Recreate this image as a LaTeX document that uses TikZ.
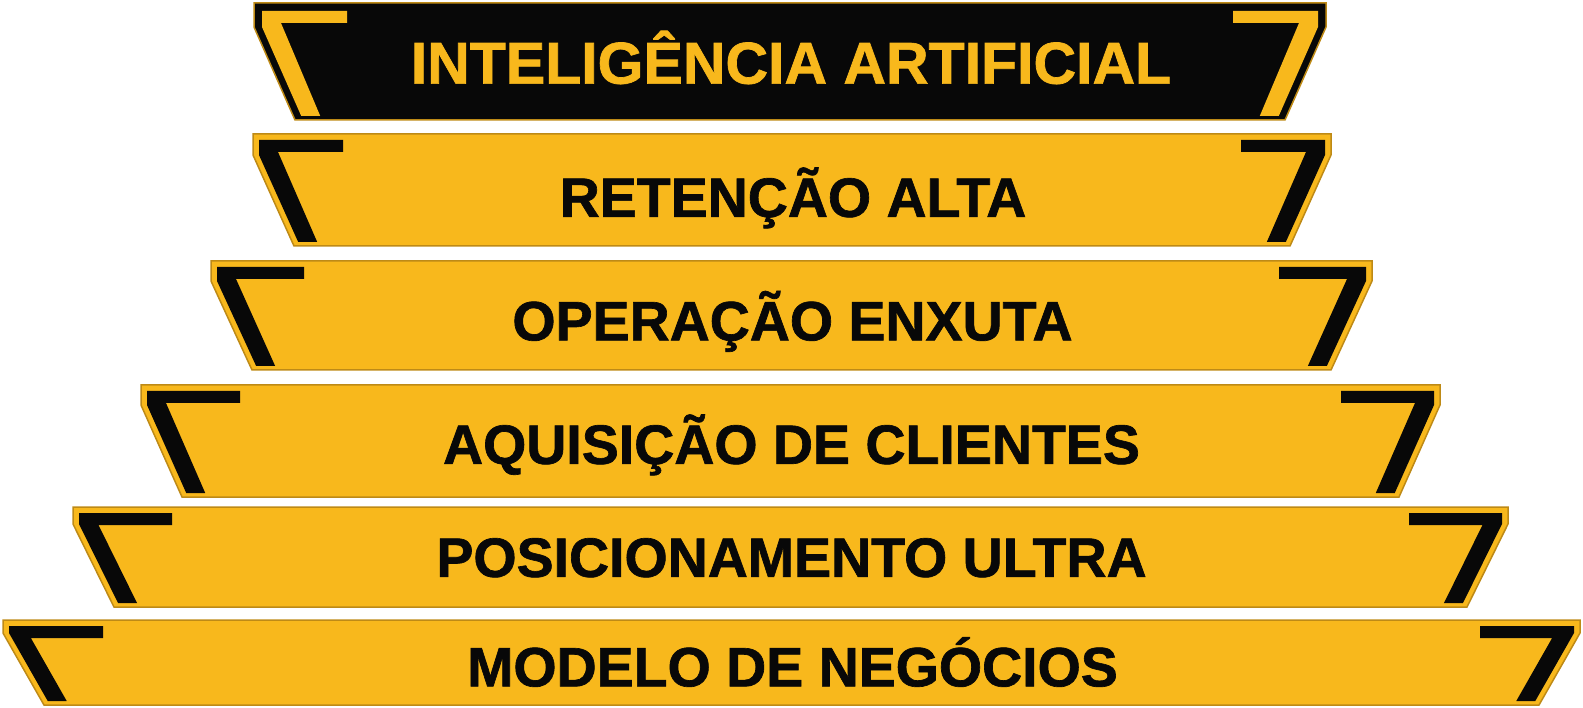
\documentclass[tikz,border=0pt]{standalone}
\usepackage{fontspec}
\setmainfont{Liberation Sans}[BoldFeatures={FakeBold=1.2}]
\definecolor{gold}{RGB}{248,184,28}
\definecolor{rim}{RGB}{190,138,22}
\definecolor{ink}{RGB}{8,8,8}
\tikzset{barshape/.style={draw=rim,line width=1.5pt,line join=miter}}
\newcommand\bk[1]{%
 \fill[\bfill] ({\xo+#1*\bi},{\yt+\bi}) -- ({\xo+#1*\armL},{\yt+\bi}) -- ({\xo+#1*\armL},{\yt+\bi+12})
  -- ({\xo+#1*(\bi+19+\slp*max(0,\bi+12-\vseg))},{\yt+\bi+12})
  -- ({\xo+#1*(\bi+19+\slp*(\yb-4-\yt-\vseg))},{\yb-4})
  -- ({\xo+#1*(\bi+\slp*(\yb-4-\yt-\vseg))},{\yb-4})
  -- ({\xo+#1*\bi},{\yt+\vseg}) -- cycle;}
\newcommand\stepbar[9]{%
 \pgfmathsetmacro\slp{41/(#5-#4-#6)}%
 \def\yt{#4}\def\yb{#5}\def\vseg{#6}\def\armL{#7}%
 \ifnum#8=1 \def\bi{8}\def\bfill{gold}\def\mfill{ink}\def\tcol{gold}\def\bfs{59}\else
   \def\bi{6}\def\bfill{ink}\def\mfill{gold}\def\tcol{ink}\def\bfs{55.5}\fi
 \filldraw[barshape,fill=\mfill] (#2,#4) -- (#3,#4) -- ({#3},{#4+#6}) -- ({#3-41},{#5}) -- ({#2+41},{#5}) -- ({#2},{#4+#6}) -- cycle;
 \def\xo{#2}\bk{1}%
 \def\xo{#3}\bk{(-1)}%
 \node[font=\fontsize{\bfs}{\bfs}\selectfont\bfseries,text=\tcol,anchor=base,inner sep=0pt]
   (#1) at ({(#2+#3)/2+1},{(#4+#5)/2+0.358*\bfs+\tdy}) {#9};
}
\begin{document}
\begin{tikzpicture}[x=1pt,y=-1pt]
\useasboundingbox (0,0) rectangle (1583,708);
\def\tdy{1}\stepbar{ia}{254}{1326}{3}{120}{24}{93}{1}{INTELIGÊNCIA ARTIFICIAL}
\def\tdy{7}\stepbar{ret}{253}{1331}{134}{246}{21}{90}{0}{RETENÇÃO ALTA}
\def\tdy{5}\stepbar{ope}{211}{1372}{261}{370}{20}{93}{0}{OPERAÇÃO ENXUTA}
\def\tdy{3}\stepbar{aqu}{141}{1440}{385}{497}{20}{99}{0}{AQUISIÇÃO DE CLIENTES}
\def\tdy{0}\stepbar{pos}{73}{1508}{507}{607}{17}{99}{0}{POSICIONAMENTO ULTRA}
\def\tdy{4}\stepbar{mod}{3}{1580}{620}{705}{13}{100}{0}{MODELO DE NEGÓCIOS}
\end{tikzpicture}
\end{document}
